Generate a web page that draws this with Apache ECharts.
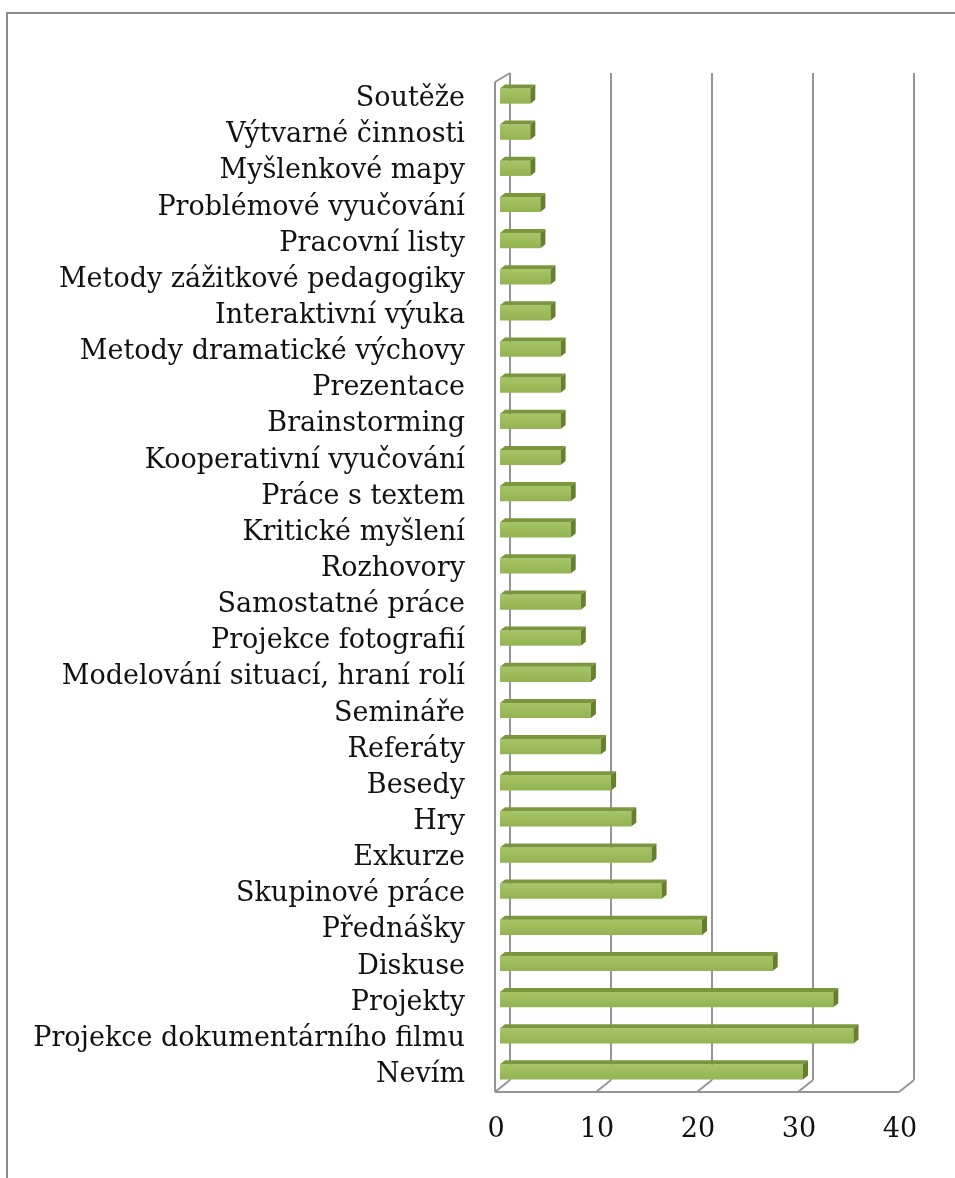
<!DOCTYPE html>
<html>
<head>
<meta charset="utf-8">
<script src="https://cdn.jsdelivr.net/npm/echarts@6/dist/echarts.min.js"></script>
<style>
  html, body { margin: 0; padding: 0; background: #fff; }
  #chart { width: 955px; height: 1178px; }
</style>
</head>
<body>
<div id="chart"></div>
<script>
// kategorie shora dolu
var categories = [
  'Soutěže', 'Výtvarné činnosti', 'Myšlenkové mapy', 'Problémové vyučování',
  'Pracovní listy', 'Metody zážitkové pedagogiky', 'Interaktivní výuka',
  'Metody dramatické výchovy', 'Prezentace', 'Brainstorming',
  'Kooperativní vyučování', 'Práce s textem', 'Kritické myšlení', 'Rozhovory',
  'Samostatné práce', 'Projekce fotografií', 'Modelování situací, hraní rolí',
  'Semináře', 'Referáty', 'Besedy', 'Hry', 'Exkurze', 'Skupinové práce',
  'Přednášky', 'Diskuse', 'Projekty', 'Projekce dokumentárního filmu', 'Nevím'
];
var values = [3, 3, 3, 4, 4, 5, 5, 6, 6, 6, 6, 7, 7, 7, 8, 8, 9, 9, 10, 11, 13, 15, 16, 20, 27, 33, 35, 30];
var xTicks = [0, 10, 20, 30, 40];

var chart = echarts.init(document.getElementById('chart'));

var lineStyle = { stroke: '#959595', lineWidth: 2 };

// zed a podlaha (pseudo 3D)
function renderFrame(params, api) {
  var cs = params.coordSys;
  var v = api.value(0);
  var x = api.coord([v, 0])[0];
  var top = cs.y, bottom = cs.y + cs.height;
  var kids = [
    { type: 'line', shape: { x1: x + 10, y1: top - 4, x2: x + 10, y2: bottom - 9 }, style: lineStyle },
    { type: 'line', shape: { x1: x + 10, y1: bottom - 9, x2: x - 5, y2: bottom + 3 }, style: lineStyle }
  ];
  if (v === 0) {
    var xEnd = api.coord([xTicks[xTicks.length - 1], 0])[0];
    kids.push({ type: 'line', shape: { x1: x - 5, y1: top + 5, x2: x - 5, y2: bottom + 3 }, style: lineStyle });
    kids.push({ type: 'line', shape: { x1: x - 5, y1: top + 5, x2: x + 10, y2: top - 4 }, style: lineStyle });
    kids.push({ type: 'line', shape: { x1: x - 5, y1: bottom + 3, x2: xEnd - 5, y2: bottom + 3 }, style: lineStyle });
  }
  return { type: 'group', children: kids };
}

function renderBar(params, api) {
  var p0 = api.coord([0, api.value(1)]);
  var p1 = api.coord([api.value(0), api.value(1)]);
  var h = api.size([0, 1])[1] * 0.42;
  var x0 = p0[0], x1 = p1[0];
  var yt = p0[1] - h / 2 + 1, yb = yt + h;
  var dx = 5, dy = 4;
  return {
    type: 'group',
    children: [
      {
        type: 'rect',
        shape: { x: x0, y: yt, width: x1 - x0, height: h },
        style: {
          fill: new echarts.graphic.LinearGradient(0, 0, 0, 1, [
            { offset: 0, color: '#a6c566' },
            { offset: 1, color: '#93b352' }
          ])
        }
      },
      {
        type: 'polygon',
        shape: { points: [[x0, yt], [x1, yt], [x1 + dx, yt - dy], [x0 + dx, yt - dy]] },
        style: { fill: '#7a973e' }
      },
      {
        type: 'polygon',
        shape: { points: [[x1, yt], [x1 + dx, yt - dy], [x1 + dx, yb - dy], [x1, yb]] },
        style: { fill: '#64802c' }
      }
    ]
  };
}

var option = {
  backgroundColor: '#fff',
  animation: false,
  textStyle: { fontFamily: 'DejaVu Serif' },
  graphic: [
    {
      type: 'rect',
      shape: { x: 7, y: 13, width: 1000, height: 1200 },
      style: { fill: 'none', stroke: '#8a8a8a', lineWidth: 2 }
    }
  ],
  grid: { left: 500, right: 51, top: 77, bottom: 89 },
  xAxis: {
    type: 'value',
    min: 0,
    max: 40,
    interval: 10,
    axisLine: { show: false },
    axisTick: { show: false },
    splitLine: { show: false },
    axisLabel: {
      margin: 27,
      fontSize: 27,
      color: '#111',
      fontFamily: 'DejaVu Serif',
      padding: [0, 8, 0, 0]
    }
  },
  yAxis: {
    type: 'category',
    inverse: true,
    data: categories,
    axisLine: { show: false },
    axisTick: { show: false },
    axisLabel: {
      margin: 35,
      fontSize: 27,
      color: '#111',
      fontFamily: 'DejaVu Serif',
      verticalAlign: 'top',
      lineHeight: 8,
      interval: 0
    }
  },
  series: [
    {
      type: 'custom',
      name: 'frame',
      renderItem: renderFrame,
      data: xTicks.map(function (t) { return [t, 0]; }),
      z: 1,
      silent: true
    },
    {
      type: 'custom',
      name: 'bars',
      renderItem: renderBar,
      encode: { x: 0, y: 1 },
      data: values.map(function (v, i) { return [v, i]; }),
      z: 2
    }
  ]
};

chart.setOption(option);
</script>
</body>
</html>
